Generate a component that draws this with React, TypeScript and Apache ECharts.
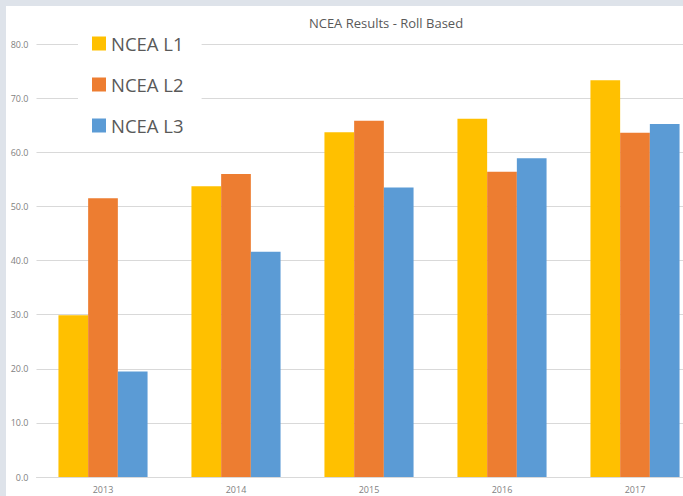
import React, { useEffect, useRef } from "react";
import * as echarts from "echarts";

const categories = ["2013", "2014", "2015", "2016", "2017"];
const seriesNames = ["NCEA L1", "NCEA L2", "NCEA L3"];
const l1Values = [29.9, 53.7, 63.7, 66.2, 73.3];
const l2Values = [51.5, 56.0, 65.8, 56.4, 63.6];
const l3Values = [19.5, 41.6, 53.5, 58.9, 65.2];
const colors = ["#FFC000", "#ED7D31", "#5B9BD5"];

export default function App() {
  const ref = useRef<HTMLDivElement>(null);
  useEffect(() => {
    if (!ref.current) return;
    const chart = echarts.init(ref.current, undefined, { renderer: "svg" });
    const font = "'Open Sans', 'Noto Sans', sans-serif";
    const values = [l1Values, l2Values, l3Values];
    chart.setOption({
      animation: false,
      backgroundColor: "#ffffff",
      title: {
        text: "NCEA Results - Roll Based",
        left: "center",
        top: 5,
        textStyle: { fontSize: 13, fontWeight: "normal", color: "#595959", fontFamily: font },
      },
      legend: {
        orient: "vertical",
        left: 72,
        top: 20,
        padding: [8, 18, 8, 14],
        backgroundColor: "#ffffff",
        itemWidth: 14,
        itemHeight: 14,
        itemGap: 22,
        icon: "rect",
        textStyle: { fontSize: 18.5, color: "#595959", fontFamily: font, lineHeight: 14 },
        data: seriesNames,
      },
      grid: { left: 30.5, right: 64.5, top: 38, bottom: 19, containLabel: false },
      xAxis: {
        type: "category",
        data: categories,
        axisLine: { lineStyle: { color: "#d9d9d9" } },
        axisTick: { show: false },
        axisLabel: { fontSize: 9, color: "#7f7f7f", fontFamily: font, margin: 8 },
      },
      yAxis: {
        type: "value",
        min: 0,
        max: 80,
        interval: 10,
        axisLine: { show: false },
        axisTick: { show: false },
        splitLine: { lineStyle: { color: "#d9d9d9" } },
        axisLabel: {
          fontSize: 9,
          color: "#7f7f7f",
          fontFamily: font,
          margin: 8,
          formatter: (v: number) => v.toFixed(1),
        },
      },
      series: seriesNames.map((name, i) => ({
        name,
        type: "bar",
        data: values[i],
        barGap: "0%",
        barCategoryGap: "33%",
        itemStyle: { color: colors[i] },
        z: 1,
      })),
    });
    return () => chart.dispose();
  }, []);
  return (
    <div
      style={{
        position: "fixed",
        left: 0,
        top: 0,
        width: 683,
        height: 496,
        background: "#dee3ea",
        overflow: "hidden",
      }}
    >
      <div ref={ref} style={{ position: "absolute", left: 6, top: 6, width: 760, height: 490 }} />
    </div>
  );
}
